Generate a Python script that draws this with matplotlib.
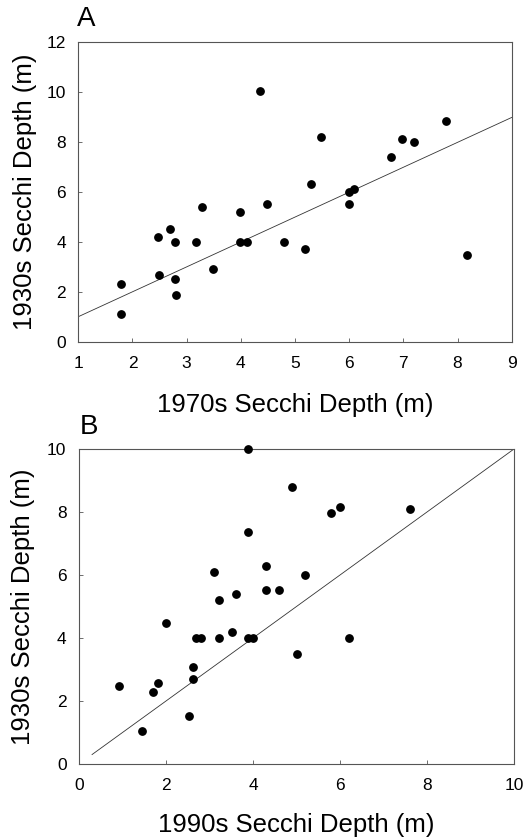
import matplotlib
matplotlib.use('Agg')
from matplotlib import pyplot as plt

plt.rcParams['font.family'] = ['Liberation Sans', 'DejaVu Sans']

# panel A: 1970s vs 1930s Secchi depth (m)
a_1970s = [1.79, 1.79, 2.48, 2.49, 2.69, 2.79, 2.79, 2.80, 3.18, 3.28,
           3.48, 3.98, 3.99, 4.11, 4.35, 4.48, 4.80, 5.19, 5.29, 5.48,
           5.99, 5.99, 6.09, 6.77, 6.98, 7.19, 7.78, 8.18]
a_1930s = [2.29, 1.09, 4.19, 2.67, 4.49, 3.99, 2.49, 1.87, 3.99, 5.40,
           2.91, 5.20, 3.99, 3.99, 10.03, 5.49, 3.99, 3.69, 6.29, 8.20,
           5.49, 5.97, 6.09, 7.40, 8.11, 8.00, 8.83, 3.45]
a_line_x = [1, 9]
a_line_y = [1.0, 8.97]

# panel B: 1990s vs 1930s Secchi depth (m)
b_1990s = [0.92, 1.44, 1.71, 1.82, 2.00, 2.53, 2.61, 2.62, 2.70, 2.81,
           3.10, 3.21, 3.21, 3.51, 3.60, 3.89, 3.89, 3.89, 4.01, 4.30,
           4.30, 4.59, 4.89, 5.00, 5.20, 5.80, 6.00, 6.21, 7.60]
b_1930s = [2.47, 1.06, 2.28, 2.58, 4.49, 1.51, 3.09, 2.70, 3.99, 3.99,
           6.09, 5.21, 3.99, 4.19, 5.41, 10.0, 7.38, 3.99, 3.99, 6.28,
           5.51, 5.51, 8.79, 3.48, 5.99, 7.97, 8.17, 3.99, 8.08]
b_line_x = [0.3, 10]
b_line_y = [0.3, 10]

W, H = 529, 840


def style(ax):
    for s in ax.spines.values():
        s.set_linewidth(0.8)
        s.set_color('#555555')
    ax.tick_params(direction='in', length=3, width=0.6, labelsize=12.5,
                   colors='#555555', labelcolor='black')
    ax.tick_params(axis='x', pad=10)
    ax.tick_params(axis='y', pad=9)


def main():
    fig = plt.figure(figsize=(W / 100, H / 100), dpi=100)

    # panel A
    axa = fig.add_axes([78.3 / W, 1 - 341.7 / H, 433.4 / W, 300 / H])
    axa.scatter(a_1970s, a_1930s, s=28, color='black', zorder=3, clip_on=False)
    axa.plot(a_line_x, a_line_y, color='#333333', lw=0.6)
    axa.set_xlim(1, 9)
    axa.set_ylim(0, 12)
    axa.set_xticks(range(1, 10))
    axa.set_yticks(range(0, 13, 2))
    style(axa)
    axa.set_xlabel('1970s Secchi Depth (m)', fontsize=18.5, va='center')
    axa.set_ylabel('1930s Secchi Depth (m)', fontsize=18.5, va='center')
    axa.xaxis.set_label_coords(0.5, (341.7 - 405) / 300)
    axa.yaxis.set_label_coords((25 - 78.3) / 433.4, 0.5)
    fig.text(77 / W, 1 - 19 / H, 'A', fontsize=20, va='center', ha='left')

    # panel B
    axb = fig.add_axes([79 / W, 1 - 764 / H, 435 / W, 315 / H])
    axb.scatter(b_1990s, b_1930s, s=28, color='black', zorder=3, clip_on=False)
    axb.plot(b_line_x, b_line_y, color='#333333', lw=0.6)
    axb.set_xlim(0, 10)
    axb.set_ylim(0, 10)
    axb.set_xticks(range(0, 11, 2))
    axb.set_yticks(range(0, 11, 2))
    style(axb)
    axb.set_xlabel('1990s Secchi Depth (m)', fontsize=18.5, va='center')
    axb.set_ylabel('1930s Secchi Depth (m)', fontsize=18.5, va='center')
    axb.xaxis.set_label_coords(0.5, (764 - 825) / 315)
    axb.yaxis.set_label_coords((23 - 79) / 435, 0.5)
    fig.text(80 / W, 1 - 427 / H, 'B', fontsize=20, va='center', ha='left')

    fig.savefig('out.png', dpi=100)


if __name__ == '__main__':
    main()
